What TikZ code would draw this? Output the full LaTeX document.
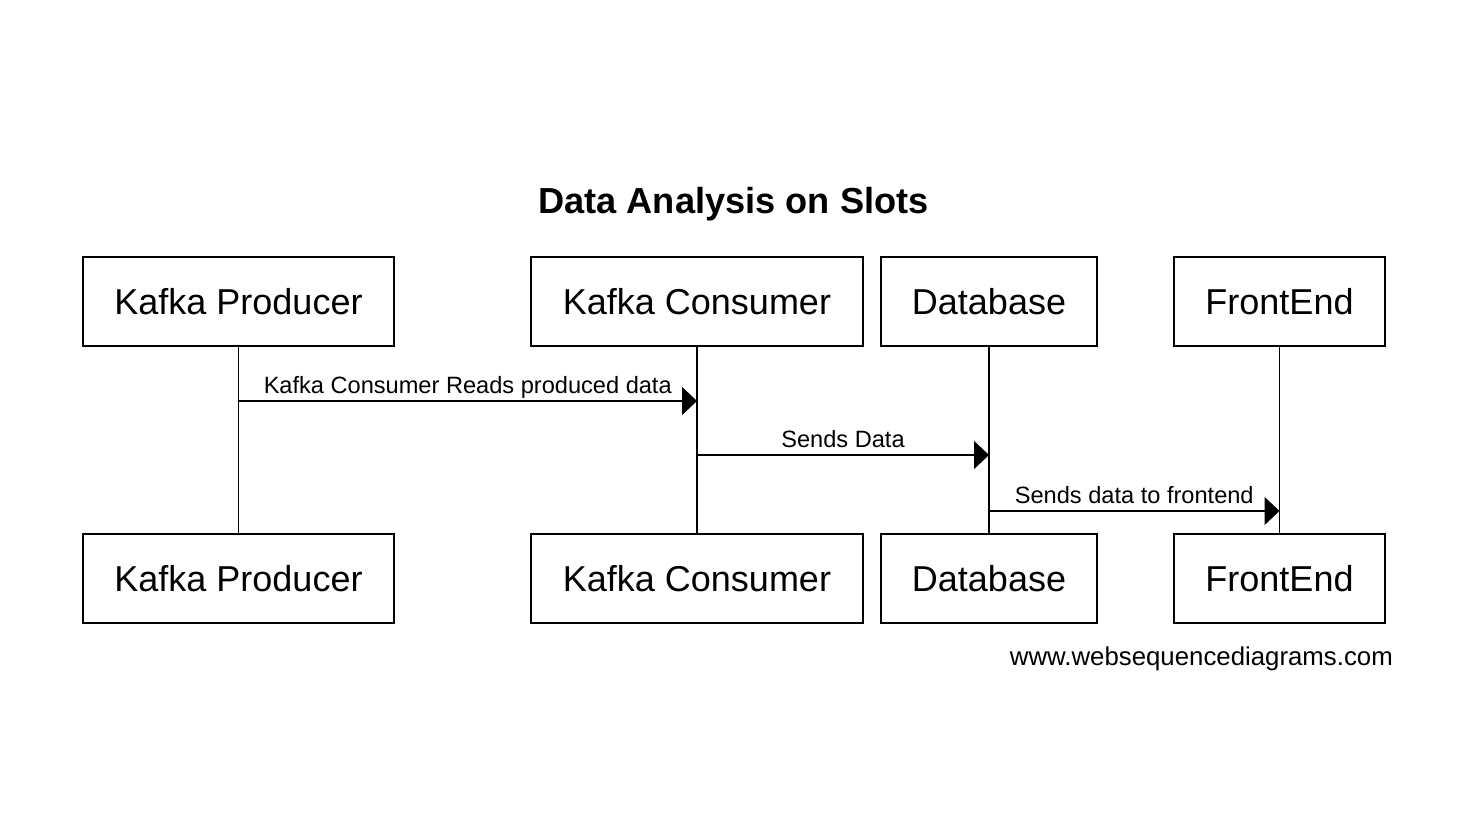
\documentclass[tikz,border=0pt]{standalone}
\usepackage{fontspec}
\setmainfont{Liberation Sans}
\usetikzlibrary{arrows.meta}
\begin{document}
\begin{tikzpicture}[x=1pt,y=-1pt,
  actor/.style={draw, line width=1.4pt, minimum height=89pt, inner sep=0pt, font=\fontsize{36}{39}\selectfont},
  life/.style={line width=1.5pt},
  msg/.style={line width=1.4pt, -{Triangle[length=15pt,width=28pt]}},
  msglabel/.style={font=\fontsize{23.6}{25}\selectfont, inner sep=0pt},
]
\useasboundingbox (0,0) rectangle (1468,830);
\fill[white] (0,0) rectangle (1468,830);

\node[font=\bfseries\fontsize{36.2}{40}\selectfont, anchor=base] (title) at (733.5,213) {Data Analysis on Slots};

\node[actor, minimum width=311pt] (kp)  at (238.5,301.5) {Kafka Producer};
\node[actor, minimum width=332pt] (kc)  at (697,301.5) {Kafka Consumer};
\node[actor, minimum width=216pt] (db)  at (989,301.5) {Database};
\node[actor, minimum width=211pt] (fe)  at (1279.5,301.5) {FrontEnd};

\node[actor, minimum width=311pt] (kpb) at (238.5,578.5) {Kafka Producer};
\node[actor, minimum width=332pt] (kcb) at (697,578.5) {Kafka Consumer};
\node[actor, minimum width=216pt] (dbb) at (989,578.5) {Database};
\node[actor, minimum width=211pt] (feb) at (1279.5,578.5) {FrontEnd};

\draw[life] (kp.south) -- (kpb.north);
\draw[life] (kc.south) -- (kcb.north);
\draw[life] (db.south) -- (dbb.north);
\draw[life] (fe.south) -- (feb.north);

\coordinate (m1s) at (238.5,401);
\coordinate (m1e) at (697,401);
\coordinate (m2s) at (697,455);
\coordinate (m2e) at (989,455);
\coordinate (m3s) at (989,511);
\coordinate (m3e) at (1279.5,511);

\draw[msg] (m1s) -- (m1e) node[msglabel, midway, anchor=base, yshift=8pt] (l1) {Kafka Consumer Reads produced data};
\draw[msg] (m2s) -- (m2e) node[msglabel, midway, anchor=base, yshift=8pt] (l2) {Sends Data};
\draw[msg] (m3s) -- (m3e) node[msglabel, midway, anchor=base, yshift=8pt] (l3) {Sends data to frontend};

\node[font=\fontsize{25.8}{28}\selectfont, anchor=base east, inner sep=0pt] (foot) at (1393,665) {www.websequencediagrams.com};
\end{tikzpicture}
\end{document}
